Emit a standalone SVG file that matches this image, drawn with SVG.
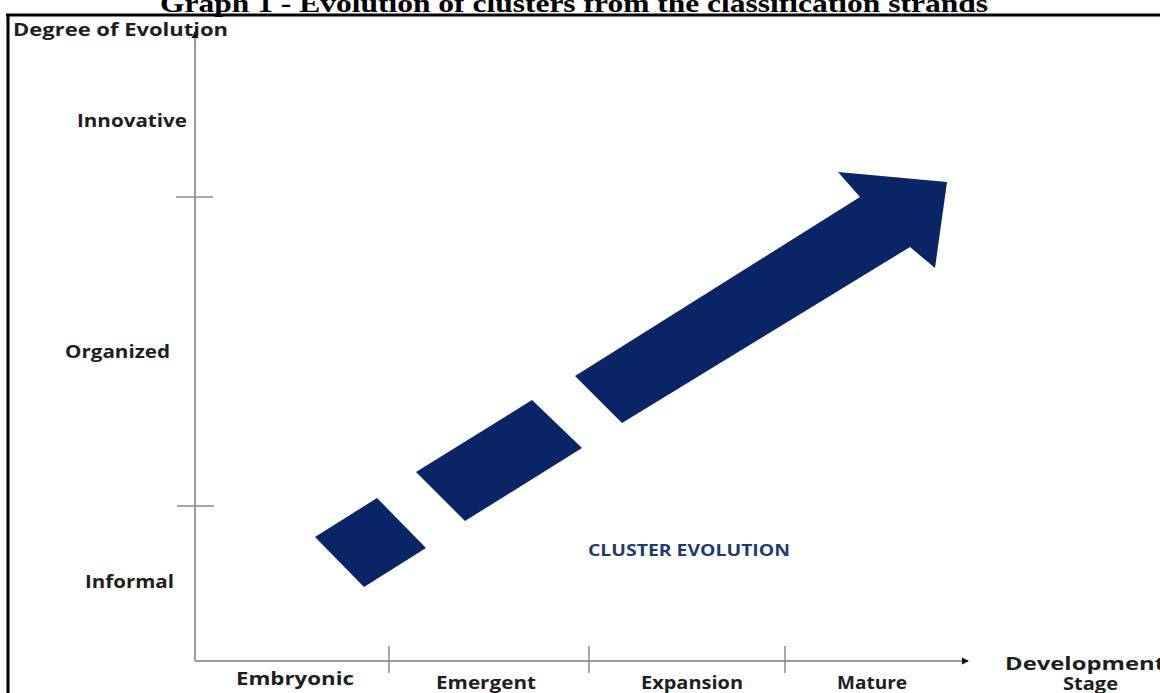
<svg xmlns="http://www.w3.org/2000/svg" width="1160" height="693" viewBox="0 0 1160 693">
<style>
.lbl{font-family:"Open Sans","Liberation Sans",sans-serif;font-weight:bold;font-size:17px;fill:#1e1e1e}
.title{font-family:"Liberation Serif","Times New Roman",serif;font-weight:bold;font-size:26px;fill:#000}
.blk{fill:#0a2566}
.axis{stroke:#9a9a9a;stroke-width:2;fill:none}
.tick{stroke:#8a8a8a;stroke-width:1.5}
</style>
<defs>
<marker id="ah" markerWidth="8" markerHeight="8" refX="6" refY="4" orient="auto" markerUnits="userSpaceOnUse">
<path d="M0,0.5 L7,4 L0,7.5 Z" fill="#111"/>
</marker>
</defs>
<rect width="1160" height="693" fill="#fff"/>
<text class="title" x="160" y="12" textLength="828" lengthAdjust="spacingAndGlyphs">Graph 1 - Evolution of clusters from the classification strands</text>
<g id="frame">
<line x1="6" y1="15" x2="1160" y2="15" stroke="#000" stroke-width="3"/>
<line x1="8" y1="14" x2="8" y2="693" stroke="#000" stroke-width="3"/>
</g>
<g id="connectors">
<line class="axis" x1="195" y1="661" x2="195" y2="32" marker-end="url(#ah)"/>
<line class="axis" x1="195" y1="661" x2="968" y2="661" marker-end="url(#ah)"/>
<line class="tick" x1="176" y1="197" x2="213" y2="197"/>
<line class="tick" x1="177" y1="506" x2="214" y2="506"/>
<line class="tick" x1="389" y1="646" x2="389" y2="673"/>
<line class="tick" x1="589" y1="646" x2="589" y2="673"/>
<line class="tick" x1="785" y1="646" x2="785" y2="673"/>
</g>
<g id="y-labels">
<text class="lbl" x="13" y="36" textLength="215" lengthAdjust="spacingAndGlyphs">Degree of Evolution</text>
<text class="lbl" x="77" y="127" textLength="110" lengthAdjust="spacingAndGlyphs">Innovative</text>
<text class="lbl" x="65" y="358" textLength="105" lengthAdjust="spacingAndGlyphs">Organized</text>
<text class="lbl" x="85" y="588" textLength="89" lengthAdjust="spacingAndGlyphs">Informal</text>
</g>
<g id="x-labels">
<text class="lbl" x="236" y="685" textLength="118" lengthAdjust="spacingAndGlyphs">Embryonic</text>
<text class="lbl" x="436" y="689" textLength="100" lengthAdjust="spacingAndGlyphs">Emergent</text>
<text class="lbl" x="641" y="689" textLength="102" lengthAdjust="spacingAndGlyphs">Expansion</text>
<text class="lbl" x="837" y="689" textLength="70" lengthAdjust="spacingAndGlyphs">Mature</text>
<text class="lbl" x="1005" y="670" font-size="15" textLength="160" lengthAdjust="spacingAndGlyphs">Development</text>
<text class="lbl" x="1063" y="690" font-size="14" textLength="55" lengthAdjust="spacingAndGlyphs">Stage</text>
</g>
<g id="block1"><polygon class="blk" points="315,537 377,498 426,548 364,587"/></g>
<g id="block2"><polygon class="blk" points="416,472 532,400 582,448 465,521"/></g>
<g id="big-arrow"><polygon class="blk" points="575,376 860,197 838,172 947,182 935,268 910,247 622,423"/></g>
<g id="cluster-label">
<text x="588" y="556" font-family="'Open Sans','Liberation Sans',sans-serif" font-weight="bold" font-size="16" fill="#1f3a70" textLength="202" lengthAdjust="spacingAndGlyphs">CLUSTER EVOLUTION</text>
</g>
</svg>
